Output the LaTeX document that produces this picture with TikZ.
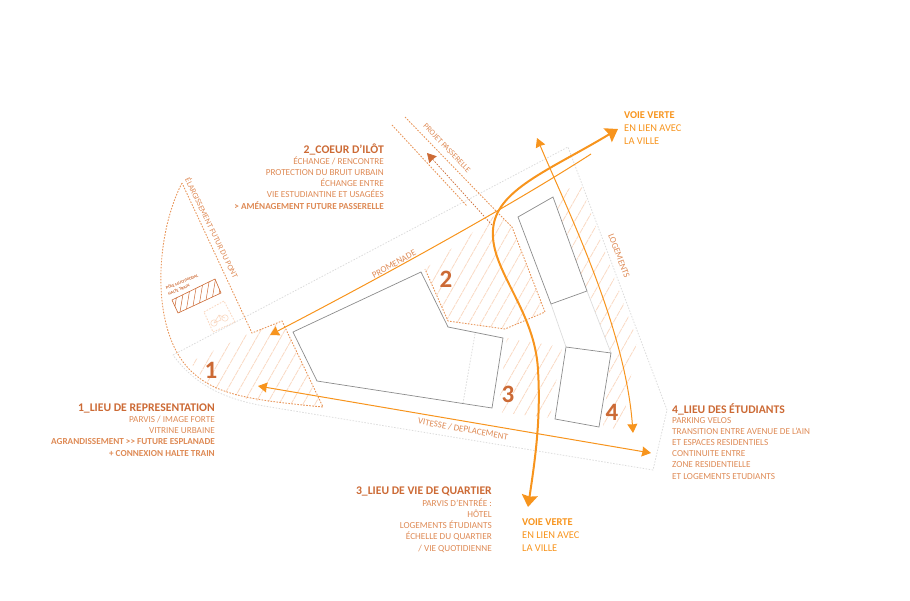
\documentclass[tikz,border=0pt]{standalone}
\usepackage{fontspec}
\setmainfont{Carlito}
\usetikzlibrary{arrows.meta}
\definecolor{hd}{HTML}{CC6A35}
\definecolor{tx}{HTML}{DE8A55}
\definecolor{og}{HTML}{F7941D}
\definecolor{ln}{HTML}{E8965A}
\definecolor{ha}{HTML}{F9D9C3}
\definecolor{gy}{HTML}{8C8C8C}
\definecolor{lg}{HTML}{DCDCDC}
\tikzset{
 head/.style={font=\fontsize{11.7}{11.7}\selectfont\bfseries,text=hd,inner sep=0pt},
 body/.style={font=\fontsize{9.2}{11.2}\selectfont,text=tx,inner sep=0pt},
 vvh/.style={font=\fontsize{10.4}{13}\selectfont,text=og,inner sep=0pt,align=left,anchor=north west},
 num/.style={font=\fontsize{25}{25}\selectfont\bfseries,text=hd,inner sep=0pt},
 lab/.style={font=\fontsize{9}{9}\selectfont,text=tx,inner sep=0pt},
 labs/.style={font=\fontsize{8}{8}\selectfont,text=tx,inner sep=0pt},
 bld/.style={draw=gy,line width=0.7pt},
 site/.style={draw=lg,line width=0.8pt,dash pattern=on 1.5pt off 1.5pt},
 zone/.style={draw=ln,line width=0.9pt,dash pattern=on 1.6pt off 1.4pt},
 thinway/.style={draw=og,line width=1pt},
 thickway/.style={draw=og,line width=2pt},
 smallhead/.style={-{Stealth[length=9pt,width=10pt,inset=0.5pt]}},
 bothheads/.style={{Stealth[length=9pt,width=10pt,inset=0.5pt]}-{Stealth[length=9pt,width=10pt,inset=0.5pt]}},
 bighead/.style={-{Stealth[length=12pt,width=16pt,inset=1.5pt]}},
}
\newcommand{\hatchlines}{\foreach \h in {0,12,...,1000}{\draw[ha,line width=0.8pt,dash pattern=on 6pt off 0.8pt] (\h,600) -- (\h+340,0);}}
\begin{document}
\begin{tikzpicture}[x=1pt,y=-1pt]
\useasboundingbox (0,0) rectangle (910,600);
% hatching
\begin{scope}\clip (190,362) -- (250,333) -- (282,322) -- (323,407) -- (250,400) -- (210,387) -- cycle; \hatchlines\end{scope}
\begin{scope}\clip (425,269) -- (448,321) -- (505,329) -- (545,312) -- (512,227) -- (498,213) -- cycle; \hatchlines\end{scope}
\begin{scope}\clip (507,338) -- (562,347) -- (550,418) -- (498,412) -- cycle; \hatchlines\end{scope}
\begin{scope}\clip (553,197) -- (580,183) -- (637,340) -- (622,430) -- (603,427) -- (611,353) -- (587,291) -- cycle; \hatchlines\end{scope}
\begin{scope}\clip (178,313) -- (172,300) -- (215,279) -- (221,293) -- cycle;
 \foreach \h in {0,6,...,1000}{\draw[hd,line width=0.5pt] (\h,600) -- (\h+100,0);}\end{scope}
% site outline
\draw[site] (173,355) -- (568,147) -- (667,410) -- (653,470) -- (270,407) .. controls (225,400) and (195,385) .. (173,355);
\draw[lg,line width=0.7pt] (551,304) -- (566,347);
\draw[lg,line width=0.7pt] (587,291) -- (611,353);
\draw[site] (475,334) -- (463,403);
% buildings
\draw[bld] (293,332) -- (421,272) -- (448,327) -- (503,338) -- (492,408) -- (317,381) -- cycle;
\draw[bld] (518,217) -- (553,197) -- (587,291) -- (551,304) -- cycle;
\draw[bld] (566,347) -- (611,353) -- (599,427) -- (555,419) -- cycle;
% zones
\draw[zone] (182,183) .. controls (155,235) and (150,330) .. (190,370) .. controls (215,395) and (250,400) .. (323,407) -- (282,321) -- (252,333) -- cycle;
\draw[zone] (405,117) -- (498,213) -- (512,227) -- (545,312) -- (505,329) -- (448,321) -- (425,269);
\draw[zone] (392,125) -- (467,206);
% pole + bike
\draw[hd,line width=0.6pt] (178,313) -- (172,300) -- (215,279) -- (221,293) -- cycle;
\draw[zone,draw=ha] (204,312) -- (224,301) -- (235,322) -- (213,332) -- cycle;
\draw[ha,line width=0.6pt] (214,323) circle (3.2) (225,318) circle (3.2) (214,323) -- (219,315) -- (225,318) (219,315) -- (221,320) -- (214,323);
\node[font=\fontsize{4.2}{6}\selectfont\bfseries,text=hd,inner sep=0,rotate=22,align=left,anchor=west] (pole) at (167,291) {PÔLE MULTIMODAL\\HALTE TRAIN};
% connectors
\coordinate (pa) at (492,225); \coordinate (pb) at (427,153);
\draw[hd,line width=0.7pt,dash pattern=on 1.6pt off 1.4pt,-{Stealth[length=9pt,width=10pt,inset=0.5pt,color=hd,sep=0pt]}] (pa) -- (pb);
\coordinate (promS) at (591,154); \coordinate (promE) at (270,335);
\draw[thinway,smallhead] (promS) .. controls (520,200) and (395,270) .. (promE);
\coordinate (vitA) at (258,386); \coordinate (vitB) at (651,453);
\draw[thinway,bothheads] (vitA) -- (vitB);
\coordinate (logA) at (537,138); \coordinate (logB) at (633,433);
\draw[thinway,bothheads] (logA) .. controls (565,205) and (625,325) .. (logB);
\coordinate (vvA) at (528,507); \coordinate (vvB) at (618,129); \coordinate (vvM) at (538,370);
\draw[thickway,bighead] (vvM) .. controls (541,420) and (535,460) .. (vvA);
\draw[thickway,bighead] (vvM) .. controls (535,310) and (490,270) .. (493,230) .. controls (495,190) and (550,170) .. (vvB);
% labels
\node[labs,rotate=-64] (l1) at (212,228) {ÉLARGISSEMENT FUTUR DU PONT};
\node[labs,rotate=-46] (l2) at (447,148) {PROJET PASSERELLE};
\node[lab,rotate=29] (l3) at (394,264) {PROMENADE};
\node[lab,rotate=-69] (l4) at (619,256) {LOGEMENTS};
\node[lab,rotate=-10] (l5) at (463,429) {VITESSE / DEPLACEMENT};
% numbers
\node[num] (n1) at (211,370) {1};
\node[num] (n2) at (446,279) {2};
\node[num] (n3) at (508,394) {3};
\node[num] (n4) at (612,412) {4};
% text blocks
\node[head,anchor=east] (t1) at (215,408.5) {1\_LIEU DE REPRESENTATION};
\node[body,align=right,anchor=north east] (b1) at (215,416) {PARVIS / IMAGE FORTE\\VITRINE URBAINE\\\textbf{AGRANDISSEMENT >{}> FUTURE ESPLANADE}\\\textbf{+ CONNEXION HALTE TRAIN}};
\node[head,anchor=east] (t2) at (384,149) {2\_COEUR D’ILÔT};
\node[body,align=right,anchor=north east] (b2) at (384,156.5) {ÉCHANGE / RENCONTRE\\PROTECTION DU BRUIT URBAIN\\ÉCHANGE ENTRE\\VIE ESTUDIANTINE ET USAGÉES\\\textbf{> AMÉNAGEMENT FUTURE PASSERELLE}};
\node[head,anchor=east] (t3) at (492,491.5) {3\_LIEU DE VIE DE QUARTIER};
\node[body,align=right,anchor=north east] (b3) at (492,498.5) {PARVIS D’ENTRÉE :\\HÔTEL\\LOGEMENTS ÉTUDIANTS\\ÉCHELLE DU QUARTIER\\/ VIE QUOTIDIENNE};
\node[head,anchor=west] (t4) at (672,409) {4\_LIEU DES ÉTUDIANTS};
\node[body,align=left,anchor=north west] (b4) at (672,417) {PARKING VELOS\\TRANSITION ENTRE AVENUE DE L’AIN\\ET ESPACES RESIDENTIELS\\CONTINUITE ENTRE\\ZONE RESIDENTIELLE\\ET LOGEMENTS ETUDIANTS};
\node[vvh] (v1) at (624,111.5) {\textbf{VOIE VERTE}\\EN LIEN AVEC\\LA VILLE};
\node[vvh] (v2) at (522,518.5) {\textbf{VOIE VERTE}\\EN LIEN AVEC\\LA VILLE};
\end{tikzpicture}
\end{document}
